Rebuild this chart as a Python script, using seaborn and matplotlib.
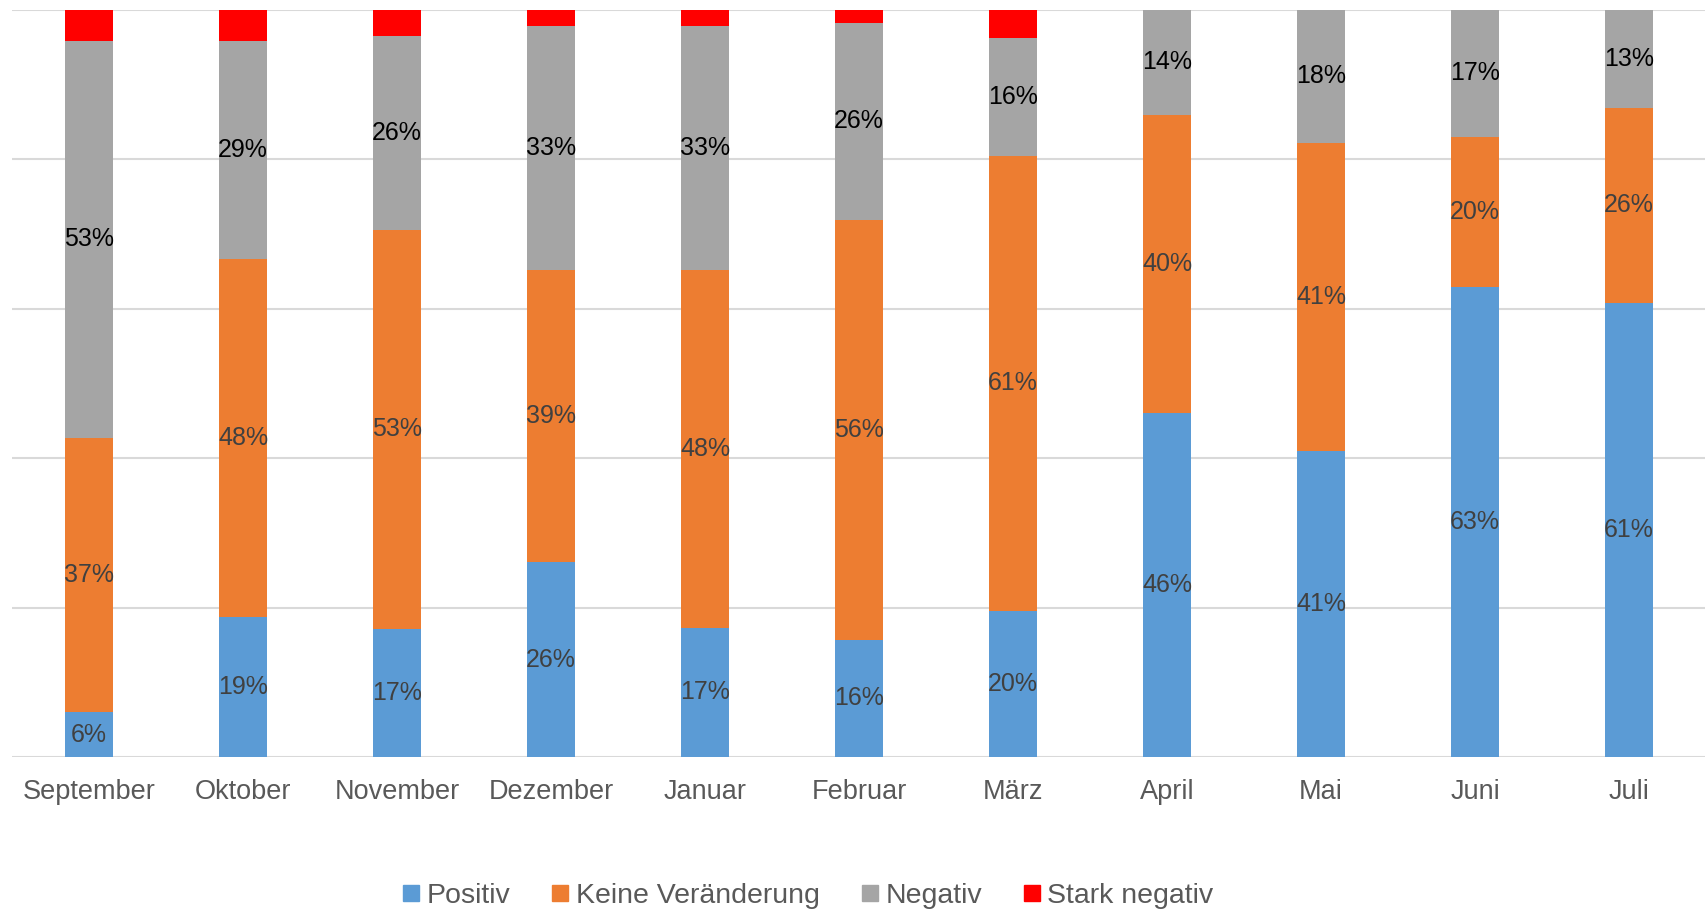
import seaborn as sns
import matplotlib.pyplot as plt
from matplotlib.lines import Line2D
import numpy as np

# Monthly share of answers (percent)
months = ['September', 'Oktober', 'November', 'Dezember', 'Januar', 'Februar',
          'März', 'April', 'Mai', 'Juni', 'Juli']
positiv = [5.97, 18.8, 17.2, 26.1, 17.3, 15.7, 19.6, 46.0, 41.0, 62.9, 60.8]
keine = [36.8, 47.9, 53.4, 39.1, 47.9, 56.2, 60.8, 40.0, 41.2, 20.1, 26.1]
negativ = [53.1, 29.2, 25.9, 32.6, 32.6, 26.4, 15.8, 14.0, 17.8, 17.0, 13.1]
stark_negativ = [4.1, 4.1, 3.5, 2.2, 2.2, 1.7, 3.9, 0.0, 0.0, 0.0, 0.0]

series = ['Positiv', 'Keine Veränderung', 'Negativ', 'Stark negativ']
colors = ['#5B9BD5', '#ED7D31', '#A5A5A5', '#FF0000']
label_colors = ['#404040', '#404040', '#000000', None]

sns.set_style("white")
plt.rcParams['font.family'] = ['Liberation Sans', 'DejaVu Sans']

fig = plt.figure(figsize=(17.06, 9.11), dpi=100)
ax = fig.add_axes([12 / 1706, 1 - 757 / 911, 1 - 12 / 1706, (757 - 10) / 911])

values = np.array([positiv, keine, negativ, stark_negativ])
cum = np.cumsum(values, axis=0)

# draw from the tallest stack down so every segment stays visible
for i in range(3, -1, -1):
    sns.barplot(x=months, y=cum[i], order=months, color=colors[i],
                width=0.31, saturation=1, edgecolor='none', ax=ax)

# centered percentage labels
for i in range(3):
    for j, v in enumerate(values[i]):
        ax.text(j, cum[i][j] - v / 2, f"{v:.0f}%", ha='center', va='center',
                fontsize=18, color=label_colors[i])

ax.set_ylim(0, 100)
ax.set_xlim(-0.5, len(months) - 0.5)
ax.set_yticks([0, 20, 40, 60, 80, 100])
ax.set_yticklabels([])
ax.yaxis.grid(True, color='#D9D9D9', linewidth=1.5)
ax.set_axisbelow(True)
ax.tick_params(axis='x', length=0, pad=16, labelsize=19.5, labelcolor='#595959')
ax.tick_params(axis='y', length=0)
ax.set_xlabel('')
ax.set_ylabel('')
for s in ax.spines.values():
    s.set_visible(False)

handles = [Line2D([0], [0], marker='s', linestyle='none', markersize=11,
                  markerfacecolor=c, markeredgecolor=c) for c in colors]
fig.legend(handles, series, loc='center', bbox_to_anchor=(808 / 1706, 1 - 896 / 911),
           ncol=4, frameon=False, fontsize=20.5, labelcolor='#595959',
           handlelength=0.6, handletextpad=0.25, columnspacing=1.45)

plt.savefig('out.png', dpi=100)
